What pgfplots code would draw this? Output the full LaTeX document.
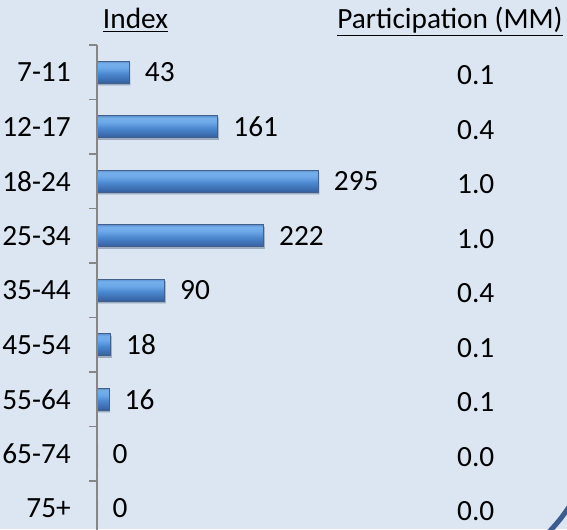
\documentclass[border=0pt]{standalone}
\usepackage{fontspec}
\setmainfont{Carlito}
\usepackage{pgfplots}
\pgfplotsset{compat=1.18}
\usepackage{pgfplotstable}

\definecolor{bg}{RGB}{220,230,242}
\definecolor{bA}{RGB}{48,92,155}
\definecolor{bB}{RGB}{58,106,172}
\definecolor{bC}{RGB}{74,134,204}
\definecolor{bD}{RGB}{108,168,232}
\definecolor{bE}{RGB}{118,174,234}
\definecolor{bF}{RGB}{92,146,212}
\definecolor{barEdge}{RGB}{66,96,138}
\definecolor{axgray}{RGB}{134,134,134}
\definecolor{arcblue}{RGB}{59,92,140}

\pgfdeclareverticalshading{barshade}{100bp}{color(0bp)=(bA); color(25bp)=(bA); color(31bp)=(bB); color(46bp)=(bC); color(60bp)=(bD); color(70bp)=(bE); color(75bp)=(bF); color(100bp)=(bF)}

\pgfplotstableread{
y pos part
0 505 0.1
1 505 0.4
2 505 1.0
3 505 1.0
4 505 0.4
5 505 0.1
6 505 0.1
7 505 0.0
8 505 0.0
}\partdata

\pgfplotsset{
  mybar/.style={xbar, draw=barEdge, line width=0.6pt,
    shading=barshade,
    preaction={fill=black, fill opacity=0.18, draw=none, transform canvas={xshift=0.9pt, yshift=-1.6pt}},
    nodes near coords,
    every node near coord/.append style={anchor=west, inner sep=0pt, xshift=11.5pt, black}}
}

\begin{document}
\fontsize{22}{26}\selectfont
\begin{tikzpicture}[x=0.75pt,y=0.75pt]
\fill[bg] (0,0) rectangle (567,529);
\useasboundingbox (0,0) rectangle (567,529);
\clip (0,0) rectangle (567,529);
\begin{axis}[
  at={(72.75pt,363pt)}, anchor=north west,
  scale only axis,
  width=225pt, height=367.875pt,
  xmin=0, xmax=400, ymin=-0.5, ymax=8.5,
  y dir=reverse,
  bar width=16.5pt,
  axis x line=none,
  axis y line*=left,
  ytick={0,...,8},
  yticklabels={7-11,12-17,18-24,25-34,35-44,45-54,55-64,65-74,75+},
  minor ytick={-0.5,0.5,...,8.5},
  major tick length=0pt,
  minor tick length=6pt,
  tick align=outside,
  y axis line style={axgray, line width=1.5pt},
  tick style={axgray, line width=1.2pt},
  yticklabel style={anchor=east, inner sep=0pt, xshift=-19.5pt, black},
  clip=false,
  /pgf/number format/assume math mode=true,
]
\addplot[mybar] coordinates {(43,0)};
\addplot[mybar] coordinates {(161,1)};
\addplot[mybar] coordinates {(295,2)};
\addplot[mybar] coordinates {(222,3)};
\addplot[mybar] coordinates {(90,4)};
\addplot[mybar] coordinates {(18,5)};
\addplot[mybar] coordinates {(16,6)};
\addplot[mybar, draw=none, shading=none, preaction={}] coordinates {(0,7)};
\addplot[mybar, draw=none, shading=none, preaction={}] coordinates {(0,8)};
\addplot[draw=none, mark=none,
  nodes near coords, point meta=explicit symbolic,
  every node near coord/.style={anchor=center, inner sep=0pt, yshift=-2.5pt, black}]
  table[x=pos, y=y, meta=part]{\partdata};
\end{axis}
\draw[axgray, line width=1.5pt] (97,-10) -- (97,484);
\node[anchor=base, inner sep=0pt] at (135.5,500) {\underline{Index}};
\node[anchor=base, inner sep=0pt] at (450,500) {\underline{Participation (MM)}};
\draw[arcblue, line width=3.75pt] (544,-8) .. controls (555,3) and (563,12) .. (574,30);
\end{tikzpicture}
\end{document}
